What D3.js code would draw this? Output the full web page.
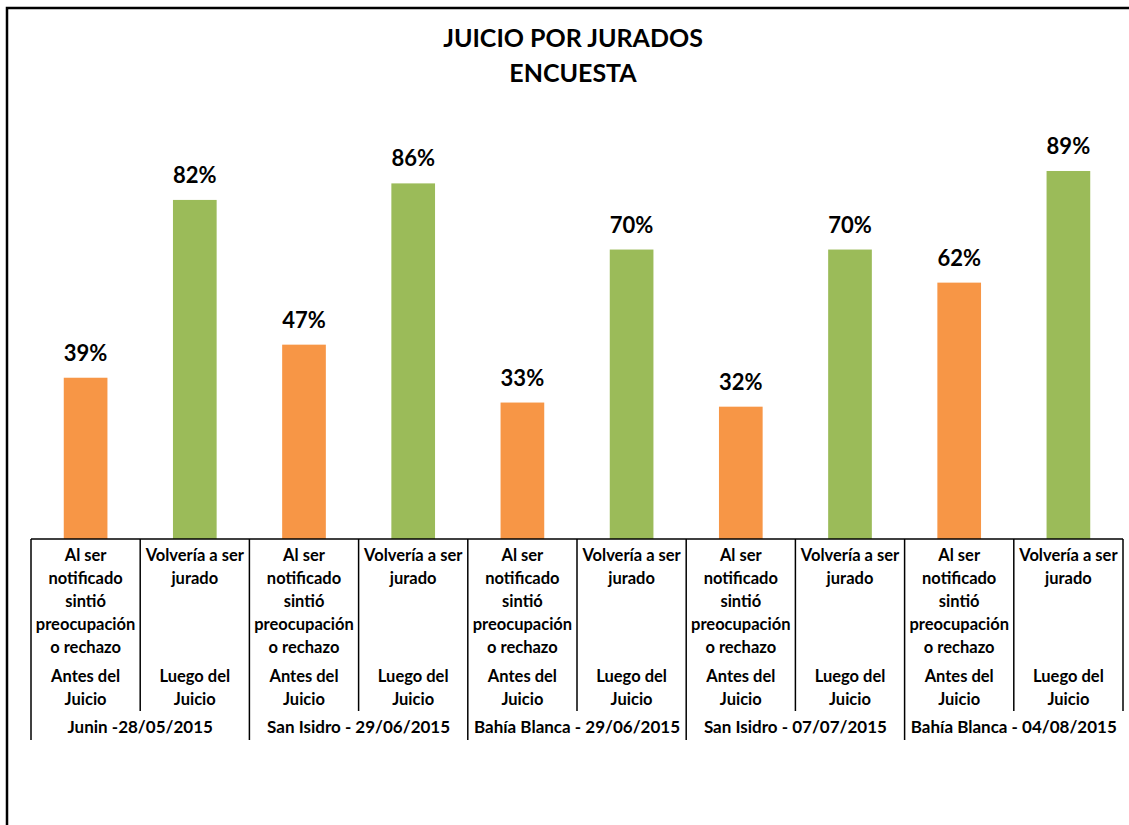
<!DOCTYPE html>
<html>
<head>
<meta charset="utf-8">
<script src="https://cdnjs.cloudflare.com/ajax/libs/d3/7.8.5/d3.min.js"></script>
<style>
    body { margin: 0; background: #fff; }
    text { font-family: Lato, "Open Sans", sans-serif; font-weight: bold; fill: #000; }
</style>
</head>
<body>
<div id="chart"></div>
<script>
var groups = ["Junin -28/05/2015", "San Isidro - 29/06/2015", "Bahía Blanca - 29/06/2015", "San Isidro - 07/07/2015", "Bahía Blanca - 04/08/2015"];
var antes = [0.39, 0.47, 0.33, 0.32, 0.62];
var luego = [0.82, 0.86, 0.70, 0.70, 0.89];
var questionLabels = [["Al ser", "notificado", "sintió", "preocupación", "o rechazo"], ["Volvería a ser", "jurado"]];
var momentLabels = [["Antes del", "Juicio"], ["Luego del", "Juicio"]];
var colors = ["#F79646", "#9BBB59"];

var width = 1129, height = 825;
var x0 = 31, x1 = 1123, base = 539;

var svg = d3.select("#chart").append("svg")
    .attr("width", width)
    .attr("height", height);

// outer frame (right and bottom fall outside the picture)
svg.append("rect")
    .attr("x", 7).attr("y", 8)
    .attr("width", 1200).attr("height", 900)
    .attr("fill", "none")
    .attr("stroke", "#000")
    .attr("stroke-width", 2.5);

svg.append("text").attr("x", 573).attr("y", 47).attr("text-anchor", "middle")
    .style("font-size", "25px").text("JUICIO POR JURADOS");
svg.append("text").attr("x", 573).attr("y", 82).attr("text-anchor", "middle")
    .style("font-size", "25px").text("ENCUESTA");

// flatten groups into 10 categories
var data = [];
groups.forEach(function (g, i) {
    data.push({group: i, kind: 0, value: antes[i]});
    data.push({group: i, kind: 1, value: luego[i]});
});

var x = d3.scaleBand()
    .domain(d3.range(data.length))
    .range([x0, x1])
    .padding(0);

var y = d3.scaleLinear()
    .domain([0, 1])
    .range([base, 125.5]);

var barW = x.bandwidth() * 0.4;

svg.append("g").selectAll("rect")
    .data(data)
    .enter().append("rect")
    .attr("x", function (d, i) { return x(i) + (x.bandwidth() - barW) / 2; })
    .attr("y", function (d) { return y(d.value); })
    .attr("width", barW)
    .attr("height", function (d) { return y(0) - y(d.value); })
    .attr("fill", function (d) { return colors[d.kind]; });

svg.append("g").selectAll("text")
    .data(data)
    .enter().append("text")
    .attr("x", function (d, i) { return x(i) + x.bandwidth() / 2; })
    .attr("y", function (d) { return y(d.value) - 17; })
    .attr("text-anchor", "middle")
    .style("font-size", "22px")
    .text(function (d) { return d3.format(".0%")(d.value); });

// axis line and category dividers
var axis = svg.append("g").attr("stroke", "#000").attr("stroke-width", 1.5);
axis.append("line").attr("x1", x0).attr("x2", x1).attr("y1", base).attr("y2", base);

d3.range(data.length + 1).forEach(function (i) {
    var xx = i < data.length ? x(i) : x1;
    var isGroup = i % 2 === 0 && i < data.length;
    axis.append("line")
        .attr("x1", xx).attr("x2", xx)
        .attr("y1", base)
        .attr("y2", isGroup ? 740 : 711);
});

var labels = svg.append("g").style("font-size", "16.5px");
data.forEach(function (d, i) {
    var cx = x(i) + x.bandwidth() / 2;
    questionLabels[d.kind].forEach(function (line, j) {
        labels.append("text").attr("x", cx).attr("y", 561 + j * 23)
            .attr("text-anchor", "middle").text(line);
    });
    momentLabels[d.kind].forEach(function (line, j) {
        labels.append("text").attr("x", cx).attr("y", 682 + j * 23)
            .attr("text-anchor", "middle").text(line);
    });
});

groups.forEach(function (g, i) {
    labels.append("text")
        .attr("x", x(i * 2) + x.bandwidth())
        .attr("y", 733)
        .attr("text-anchor", "middle")
        .style("font-size", "17px")
        .text(g);
});
</script>
</body>
</html>
